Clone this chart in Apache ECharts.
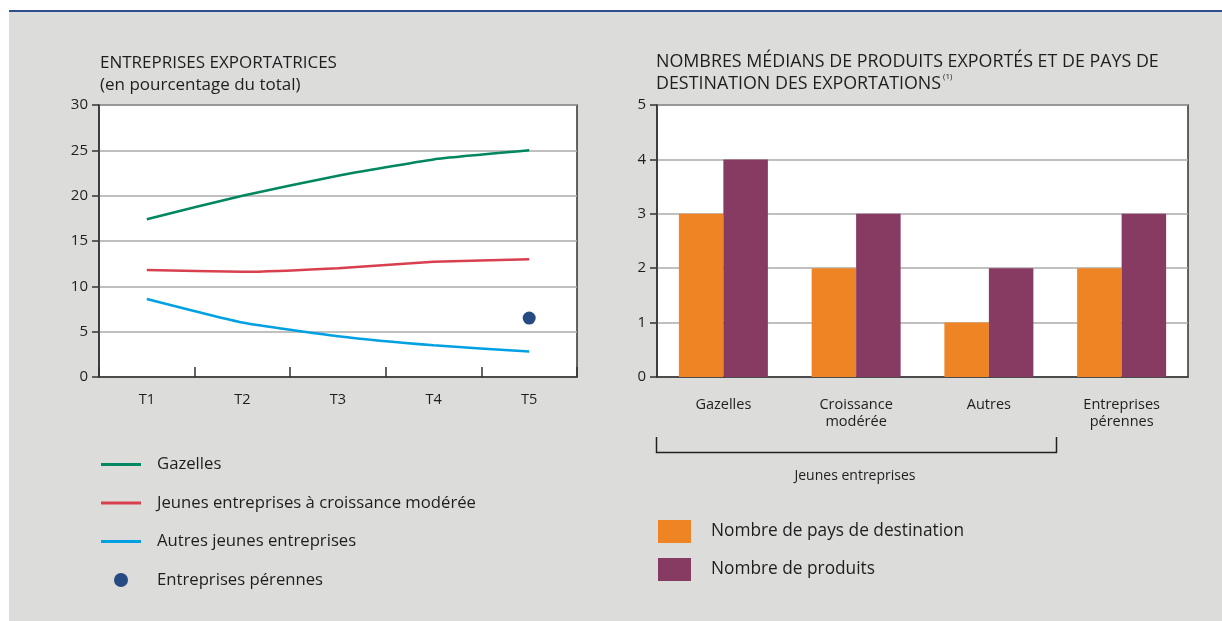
<!DOCTYPE html>
<html>
<head>
<meta charset="utf-8">
<script src="https://cdn.jsdelivr.net/npm/echarts@6/dist/echarts.min.js"></script>
<style>
  html, body { margin: 0; padding: 0; background: #ffffff; }
  #chart { width: 1222px; height: 621px; }
</style>
</head>
<body>
<div id="chart"></div>
<script>
// Left panel: share of exporting firms (% of total)
const periods = ['T1', 'T2', 'T3', 'T4', 'T5'];
const gazelles = [17.4, 20.0, 22.2, 24.0, 25.0];
const croissanceModeree = [11.8, 11.6, 12.0, 12.7, 13.0];
const autresJeunes = [8.6, 6.0, 4.5, 3.5, 2.8];
const perennes = [null, null, null, null, 6.5];
const leftTicks = [0, 30, 5];

// Right panel: median numbers of products and destination countries
const groups = ['Gazelles', 'Croissance\nmodérée', 'Autres', 'Entreprises\npérennes'];
const nbPays = [3, 2, 1, 2];
const nbProduits = [4, 3, 2, 3];
const rightTicks = [0, 5, 1];

const FONT = '"Open Sans", "Noto Sans", sans-serif';
const TXT = '#1e1e1e';
const C_GREEN = '#00875f';
const C_RED = '#d8404f';
const C_BLUE = '#00a0e3';
const C_DOT = '#264a82';
const C_ORANGE = '#ef8424';
const C_PURPLE = '#873a62';

const chart = echarts.init(document.getElementById('chart'), null, { renderer: 'canvas' });

const linePath = 'path://M0,0 L40,0 L40,3 L0,3 Z';

chart.setOption({
  animation: false,
  backgroundColor: '#ffffff',
  textStyle: { fontFamily: FONT, color: TXT },
  graphic: [
    { type: 'rect', z: -10, shape: { x: 9, y: 11, width: 1213, height: 610 }, style: { fill: '#dcdcdb' } },
    { type: 'rect', z: -9, shape: { x: 9, y: 10, width: 1213, height: 2 }, style: { fill: '#2f4f8c' } },
    { type: 'polyline', shape: { points: [[656.5, 437], [656.5, 452.5], [1056.5, 452.5], [1056.5, 437]] },
      style: { stroke: '#222', lineWidth: 1.5, fill: null } },
    { type: 'text', x: 855, y: 476, style: { text: 'Jeunes entreprises', fill: TXT, font: '14px ' + FONT, align: 'center', verticalAlign: 'middle' } }
  ],
  title: [
    { left: 100, top: 52, padding: 0, text: 'ENTREPRISES EXPORTATRICES\n(en pourcentage du total)',
      textStyle: { fontFamily: FONT, fontSize: 17, fontWeight: 'normal', color: TXT, lineHeight: 22 } },
    { left: 656, top: 51, padding: 0,
      text: '{t|NOMBRES MÉDIANS DE PRODUITS EXPORTÉS ET DE PAYS DE}\n{t|DESTINATION DES EXPORTATIONS}{s|(1)}',
      textStyle: { fontFamily: FONT, fontSize: 17, fontWeight: 'normal', color: TXT, lineHeight: 22,
        rich: {
          t: { fontFamily: FONT, fontSize: 17.85, color: TXT, lineHeight: 22 },
          s: { fontFamily: FONT, fontSize: 8, color: TXT, verticalAlign: 'top', padding: [0, 0, 8, 2] }
        } } }
  ],
  legend: [
    { orient: 'vertical', left: 101, top: 456, padding: 0, itemWidth: 40, itemHeight: 14, itemGap: 21.5,
      textStyle: { fontFamily: FONT, fontSize: 16.7, color: TXT, padding: [0, 0, 0, 11] },
      data: [
        { name: 'Gazelles', icon: linePath },
        { name: 'Jeunes entreprises à croissance modérée', icon: linePath },
        { name: 'Autres jeunes entreprises', icon: linePath },
        { name: 'Entreprises pérennes', icon: 'circle' }
      ] },
    { orient: 'vertical', left: 658, top: 520, padding: 0, itemWidth: 33, itemHeight: 23, itemGap: 15,
      textStyle: { fontFamily: FONT, fontSize: 17.3, color: TXT, padding: [0, 0, 0, 15] },
      data: [
        { name: 'Nombre de pays de destination', icon: 'rect' },
        { name: 'Nombre de produits', icon: 'rect' }
      ] }
  ],
  grid: [
    { left: 99, top: 105, width: 478, height: 272, show: true, backgroundColor: '#ffffff',
      borderColor: '#333333', borderWidth: 1.5, containLabel: false },
    { left: 657, top: 105, width: 531, height: 272, show: true, backgroundColor: '#ffffff',
      borderColor: '#333333', borderWidth: 1.5, containLabel: false }
  ],
  xAxis: [
    { type: 'category', gridIndex: 0, data: periods, boundaryGap: true,
      axisLine: { lineStyle: { color: '#333', width: 1.5 } },
      axisTick: { show: true, inside: true, length: 10, lineStyle: { color: '#333', width: 1.5 } },
      axisLabel: { fontFamily: FONT, fontSize: 14.5, color: TXT, margin: 15 } },
    { type: 'category', gridIndex: 1, data: groups, boundaryGap: true,
      axisLine: { lineStyle: { color: '#333', width: 1.5 } },
      axisTick: { show: false },
      axisLabel: { fontFamily: FONT, fontSize: 14.5, color: TXT, margin: 19, lineHeight: 17 } }
  ],
  yAxis: [
    { type: 'value', gridIndex: 0, min: leftTicks[0], max: leftTicks[1], interval: leftTicks[2],
      axisLine: { show: true, lineStyle: { color: '#333', width: 1.5 } },
      axisTick: { show: true, length: 7, lineStyle: { color: '#333', width: 1.5 } },
      axisLabel: { fontFamily: FONT, fontSize: 15, color: TXT, margin: 11 },
      splitLine: { lineStyle: { color: '#ababab', width: 1.5 } } },
    { type: 'value', gridIndex: 1, min: rightTicks[0], max: rightTicks[1], interval: rightTicks[2],
      axisLine: { show: true, lineStyle: { color: '#333', width: 1.5 } },
      axisTick: { show: true, length: 7, lineStyle: { color: '#333', width: 1.5 } },
      axisLabel: { fontFamily: FONT, fontSize: 15, color: TXT, margin: 11 },
      splitLine: { lineStyle: { color: '#ababab', width: 1.5 } } }
  ],
  series: [
    { name: 'Gazelles', type: 'line', xAxisIndex: 0, yAxisIndex: 0, data: gazelles,
      showSymbol: false, symbol: 'none', smooth: 0.15, lineStyle: { color: C_GREEN, width: 2.5 }, itemStyle: { color: C_GREEN } },
    { name: 'Jeunes entreprises à croissance modérée', type: 'line', xAxisIndex: 0, yAxisIndex: 0, data: croissanceModeree,
      showSymbol: false, symbol: 'none', smooth: 0.15, lineStyle: { color: C_RED, width: 2.5 }, itemStyle: { color: C_RED } },
    { name: 'Autres jeunes entreprises', type: 'line', xAxisIndex: 0, yAxisIndex: 0, data: autresJeunes,
      showSymbol: false, symbol: 'none', smooth: 0.15, lineStyle: { color: C_BLUE, width: 2.5 }, itemStyle: { color: C_BLUE } },
    { name: 'Entreprises pérennes', type: 'scatter', xAxisIndex: 0, yAxisIndex: 0, data: perennes,
      symbol: 'circle', symbolSize: 13, itemStyle: { color: C_DOT, opacity: 1 } },
    { name: 'Nombre de pays de destination', type: 'bar', xAxisIndex: 1, yAxisIndex: 1, data: nbPays,
      barWidth: 44.5, barGap: '0%', itemStyle: { color: C_ORANGE } },
    { name: 'Nombre de produits', type: 'bar', xAxisIndex: 1, yAxisIndex: 1, data: nbProduits,
      barWidth: 44.5, barGap: '0%', itemStyle: { color: C_PURPLE } }
  ]
});
</script>
</body>
</html>
